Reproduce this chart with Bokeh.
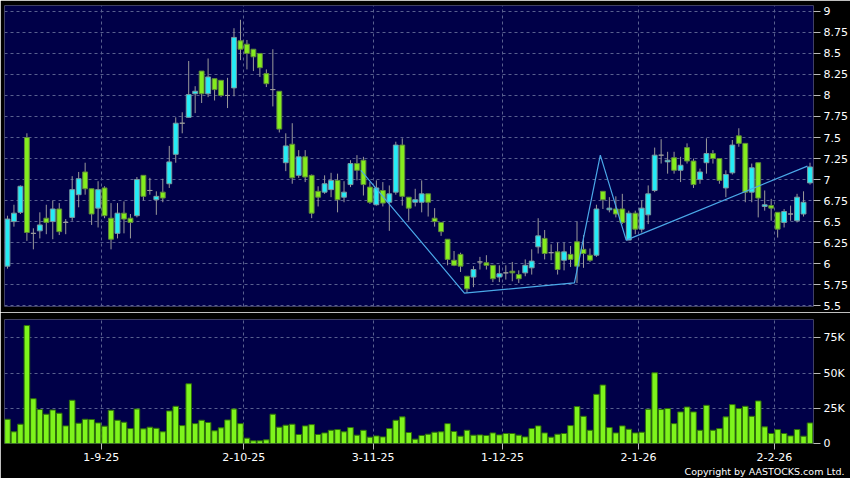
from bokeh.plotting import figure
from bokeh.models import Range1d, FixedTicker, Title, ColumnDataSource
from bokeh.layouts import column
from bokeh.embed import file_html
from bokeh.resources import INLINE

# ---- data, one entry per trading day ----
opens = [5.97, 6.50, 6.61, 7.50, 6.36, 6.39, 6.54, 6.50, 6.65, 6.49,
         6.55, 6.82, 7.09, 6.89, 6.66, 6.90, 6.54, 6.36, 6.60, 6.54,
         6.57, 7.05, 6.87, 6.76, 6.85, 6.95, 7.30, 7.67, 7.74, 8.02,
         8.29, 8.02, 8.20, 8.18, 8.00, 8.09, 8.65, 8.61, 8.55, 8.50,
         8.26, 8.07, 8.05, 7.20, 7.42, 7.05, 7.27, 7.05, 6.86, 6.85,
         6.88, 6.99, 6.79, 6.94, 7.19, 7.23, 6.91, 6.70, 6.87, 6.73,
         6.85, 7.41, 6.79, 6.73, 6.73, 6.83, 6.54, 6.49, 6.29, 6.04,
         6.11, 5.85, 5.84, 6.02, 6.01, 5.98, 5.84, 5.89, 5.91, 5.87,
         5.89, 5.95, 6.20, 6.30, 6.13, 6.14, 6.04, 6.11, 6.26, 6.17,
         6.10, 6.10, 6.86, 6.64, 6.65, 6.65, 6.28, 6.60, 6.41, 6.58,
         6.87, 7.29, 7.21, 7.26, 7.11, 7.38, 7.22, 7.00, 7.20, 7.31,
         7.25, 6.90, 7.08, 7.52, 7.43, 6.85, 7.20, 6.68, 6.69, 6.61,
         6.49, 6.59, 6.51, 6.59, 6.96]
highs = [6.57, 6.70, 6.93, 7.55, 6.42, 6.61, 6.70, 6.75, 6.72, 6.53,
         7.04, 7.09, 7.20, 6.89, 6.98, 6.92, 6.72, 6.72, 6.74, 6.59,
         7.03, 7.05, 7.02, 6.86, 7.01, 7.40, 7.74, 7.80, 8.41, 8.11,
         8.29, 8.44, 8.20, 8.18, 8.21, 8.80, 8.90, 8.66, 8.55, 8.50,
         8.31, 8.55, 8.05, 7.55, 7.67, 7.35, 7.35, 7.06, 6.92, 7.05,
         7.08, 7.07, 6.98, 7.23, 7.29, 7.27, 6.97, 6.99, 6.97, 6.93,
         7.45, 7.49, 6.79, 6.89, 6.99, 6.83, 6.66, 6.49, 6.29, 6.15,
         6.13, 5.85, 5.97, 6.08, 6.10, 5.98, 5.98, 5.98, 6.02, 5.92,
         6.05, 6.17, 6.54, 6.40, 6.23, 6.25, 6.25, 6.21, 6.50, 6.34,
         6.18, 6.70, 6.86, 6.79, 6.80, 6.83, 6.63, 6.63, 6.75, 6.93,
         7.38, 7.48, 7.33, 7.33, 7.27, 7.43, 7.25, 7.13, 7.49, 7.35,
         7.25, 7.11, 7.47, 7.61, 7.43, 7.19, 7.20, 6.87, 6.77, 6.61,
         6.65, 6.69, 6.83, 6.86, 7.20]
lows = [5.94, 6.44, 6.59, 6.27, 6.17, 6.30, 6.35, 6.29, 6.34, 6.35,
        6.51, 6.67, 6.82, 6.46, 6.43, 6.54, 6.17, 6.30, 6.36, 6.30,
        6.55, 6.75, 6.82, 6.58, 6.73, 6.90, 7.20, 7.55, 7.74, 7.79,
        7.91, 7.98, 7.94, 7.98, 7.85, 7.99, 8.42, 8.31, 8.29, 8.22,
        8.10, 7.87, 7.56, 7.10, 6.95, 7.02, 6.97, 6.54, 6.68, 6.83,
        6.79, 6.61, 6.73, 6.91, 6.99, 6.81, 6.71, 6.69, 6.68, 6.39,
        6.82, 6.69, 6.51, 6.68, 6.61, 6.56, 6.44, 6.33, 5.98, 5.97,
        5.90, 5.65, 5.72, 5.93, 5.93, 5.78, 5.78, 5.81, 5.79, 5.77,
        5.85, 5.87, 6.12, 6.05, 6.04, 5.87, 5.92, 5.96, 5.77, 5.95,
        6.02, 6.08, 6.65, 6.61, 6.55, 6.47, 6.28, 6.35, 6.37, 6.47,
        6.85, 7.19, 7.07, 7.07, 6.97, 7.19, 6.90, 6.95, 7.07, 7.19,
        6.95, 6.79, 7.06, 7.39, 6.73, 6.73, 6.55, 6.63, 6.51, 6.31,
        6.43, 6.51, 6.49, 6.56, 6.94]
closes = [6.53, 6.60, 6.92, 6.37, 6.36, 6.46, 6.49, 6.65, 6.38, 6.49,
          6.88, 7.01, 6.89, 6.59, 6.88, 6.57, 6.29, 6.60, 6.53, 6.49,
          7.00, 6.80, 6.87, 6.80, 6.78, 7.21, 7.67, 7.67, 8.01, 8.05,
          8.02, 8.22, 8.07, 8.00, 8.00, 8.69, 8.55, 8.50, 8.46, 8.33,
          8.14, 8.07, 7.60, 7.40, 7.02, 7.27, 7.03, 6.60, 6.79, 6.95,
          6.99, 6.76, 6.85, 7.19, 7.11, 6.94, 6.73, 6.90, 6.72, 6.83,
          7.41, 6.80, 6.66, 6.76, 6.83, 6.73, 6.50, 6.38, 6.05, 5.98,
          5.97, 5.70, 5.93, 6.02, 5.98, 5.82, 5.88, 5.89, 5.89, 5.82,
          5.98, 6.03, 6.33, 6.12, 6.13, 5.93, 6.14, 6.05, 5.97, 6.12,
          6.04, 6.65, 6.76, 6.66, 6.59, 6.49, 6.60, 6.41, 6.66, 6.83,
          7.29, 7.29, 7.23, 7.11, 7.17, 7.22, 6.94, 7.09, 7.31, 7.25,
          6.99, 7.06, 7.41, 7.43, 6.85, 7.14, 6.78, 6.70, 6.66, 6.41,
          6.62, 6.59, 6.79, 6.73, 7.15]
volumes = [17200, 8300, 13700, 83700, 31800, 24100, 20800, 23800, 21500, 12500,
           30700, 14400, 17200, 17000, 14600, 12300, 23600, 16500, 15100, 10600,
           24500, 10400, 11600, 10800, 8300, 23100, 26400, 12700, 42400, 14100,
           16500, 14900, 9000, 11100, 16700, 24500, 14100, 3800, 1900, 1900,
           2600, 20800, 11600, 13000, 13700, 6400, 12500, 13400, 6400, 7500,
           9400, 9900, 8300, 11300, 5900, 9400, 4500, 5400, 4700, 10600,
           16500, 18900, 7800, 3100, 5700, 6600, 8000, 8300, 14100, 8500,
           5200, 9400, 5900, 6100, 5700, 7500, 6100, 7100, 7100, 5900,
           4700, 10600, 12500, 7500, 4500, 6600, 7100, 12700, 26200, 19300,
           9400, 34900, 41500, 11300, 7500, 12500, 10100, 7500, 8000, 24300,
           50200, 24100, 24800, 14100, 22400, 25900, 22400, 9400, 27100, 9400,
           10600, 18900, 27600, 24800, 26400, 19300, 30200, 11800, 7100, 9900,
           7100, 5400, 9900, 5200, 14600]

# zig-zag trend line (positions in trading-day index, price)
zz_x = [54.6, 70.6, 87.6, 91.6, 95.6, 123.6]
zz_y = [7.11, 5.65, 5.77, 7.29, 6.28, 7.16]

# axis ticks
date_tick_pos = [14.5, 36.5, 56.5, 76.5, 97.5, 118.5]
date_tick_labels = ["1-9-25", "2-10-25", "3-11-25", "1-12-25", "2-1-26", "2-2-26"]
price_ticks = [5.5, 5.75, 6.0, 6.25, 6.5, 6.75, 7.0, 7.25, 7.5, 7.75, 8.0, 8.25, 8.5, 8.75, 9.0]
price_labels = ["5.5", "5.75", "6", "6.25", "6.5", "6.75", "7", "7.25", "7.5", "7.75", "8", "8.25", "8.5", "8.75", "9"]
vol_ticks = [0, 25000, 50000, 75000]
vol_labels = ["0", "25K", "50K", "75K"]

# ---- styling ----
BG = "#000000"
PANEL = "#000048"
GRID = "#59608f"
UP = "#24ecf6"
DOWN = "#84ec1e"
FLAT = "#9a9a9a"
WICK = "#9a9a9a"
VOL = "#7ef41c"
FONT = "DejaVu Sans"

n = len(opens)
idx = list(range(n))
fill = []
line = []
for o, c in zip(opens, closes):
    if c > o:
        fill.append(UP); line.append("#7a9aa0")
    elif c < o:
        fill.append(DOWN); line.append("#5f8a3a")
    else:
        fill.append(FLAT); line.append(FLAT)

src = ColumnDataSource(dict(
    x=idx, high=highs, low=lows,
    top=[max(o, c) for o, c in zip(opens, closes)],
    bottom=[min(o, c) for o, c in zip(opens, closes)],
    fill=fill, line=line, vol=volumes,
))

W = 850
xr = Range1d(-0.46, n - 0.46)


def style(p):
    p.background_fill_color = PANEL
    p.border_fill_color = BG
    p.outline_line_color = None
    p.xgrid.ticker = FixedTicker(ticks=date_tick_pos)
    for g in (p.xgrid, p.ygrid):
        g.grid_line_color = GRID
        g.grid_line_dash = "3 3"
        g.grid_line_width = 1
    ax = p.yaxis[0]
    ax.axis_line_color = None
    ax.major_tick_line_color = "#bbbbbb"
    ax.major_tick_in = 0
    ax.major_tick_out = 7
    ax.minor_tick_line_color = None
    ax.major_label_text_color = "#ffffff"
    ax.major_label_text_font = FONT
    ax.major_label_text_font_size = "11px"
    ax.major_label_standoff = 3


p1 = figure(width=W, height=312, x_range=xr, y_range=Range1d(5.49, 9.07),
            output_backend="svg", toolbar_location=None, y_axis_location="right",
            min_border_left=4, min_border_right=36, min_border_top=5, min_border_bottom=6)
style(p1)
p1.xaxis.visible = False
p1.yaxis.ticker = FixedTicker(ticks=price_ticks)
p1.yaxis.major_label_overrides = dict(zip(price_ticks, price_labels))

p1.segment(x0="x", y0="low", x1="x", y1="high", source=src, line_color=WICK, line_width=1)
p1.vbar(x="x", top="top", bottom="bottom", width=0.75, source=src,
        fill_color="fill", line_color="line", line_width=1)
p1.line(zz_x, zz_y, line_color="#4aa8e8", line_width=1.2)

p2 = figure(width=W, height=166, x_range=xr, y_range=Range1d(0, 88000),
            output_backend="svg", toolbar_location=None, y_axis_location="right",
            min_border_left=4, min_border_right=36, min_border_top=7, min_border_bottom=35)
style(p2)
p2.yaxis.ticker = FixedTicker(ticks=vol_ticks)
p2.yaxis.major_label_overrides = dict(zip(vol_ticks, vol_labels))
p2.ygrid.ticker = FixedTicker(ticks=vol_ticks[1:])

xa = p2.xaxis[0]
xa.ticker = FixedTicker(ticks=date_tick_pos)
xa.major_label_overrides = dict(zip(date_tick_pos, date_tick_labels))
xa.axis_line_color = None
xa.major_tick_line_color = "#bbbbbb"
xa.major_tick_in = 0
xa.major_tick_out = 6
xa.minor_tick_line_color = None
xa.major_label_text_color = "#ffffff"
xa.major_label_text_font = FONT
xa.major_label_text_font_size = "11px"
xa.major_label_standoff = 3

p2.vbar(x="x", top="vol", bottom=0, width=0.86, source=src,
        fill_color=VOL, line_color="#2f6f0a", line_width=1)

p2.add_layout(Title(text="Copyright by AASTOCKS.com Ltd.", align="right", offset=-31,
                    standoff=0, text_color="#ffffff", text_font=FONT,
                    text_font_size="9.5px", text_font_style="normal",
                    text_line_height=1.0), "below")

layout = column(p1, p2, spacing=0)
open("out.html", "w").write(file_html(layout, INLINE))
